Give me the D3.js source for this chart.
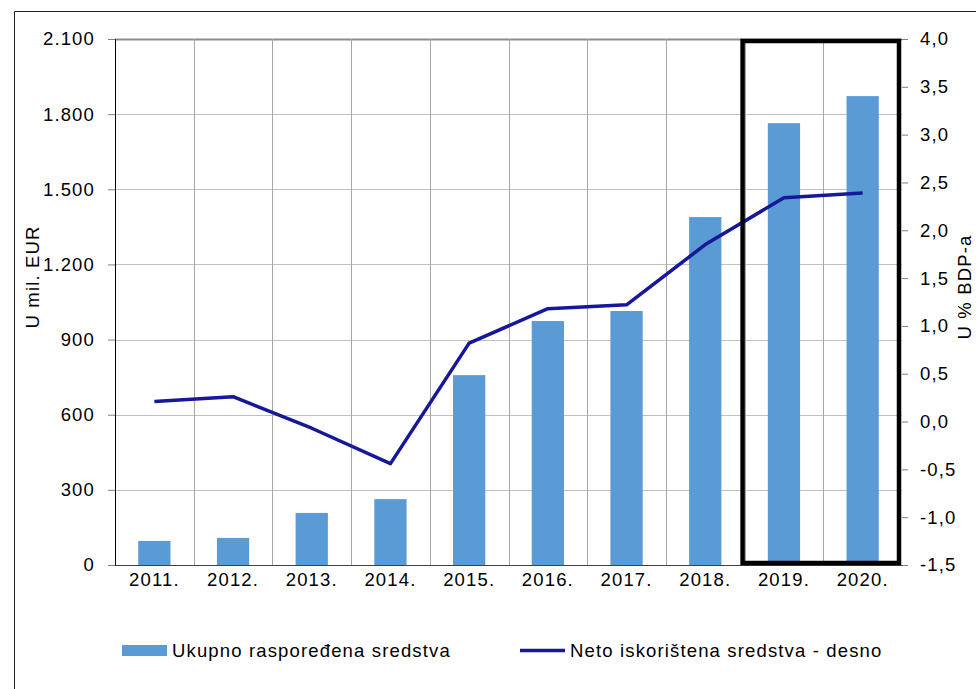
<!DOCTYPE html>
<html>
<head>
<meta charset="utf-8">
<script src="https://cdn.jsdelivr.net/npm/d3@7"></script>
<style>
  body { margin: 0; background: #fff; }
  text { font-family: 'Liberation Sans', Arial, sans-serif; font-size: 18.5px; letter-spacing: 1.15px; fill: #000; }
</style>
</head>
<body>
<div id="chart"></div>
<script>
const years = ['2011.', '2012.', '2013.', '2014.', '2015.', '2016.', '2017.', '2018.', '2019.', '2020.'];
const ukupno = [96, 108, 208, 263, 758, 974, 1014, 1389, 1764, 1872];
const neto = [0.21, 0.26, -0.07, -0.44, 0.82, 1.18, 1.22, 1.85, 2.34, 2.39];
const leftTicks = [0, 300, 600, 900, 1200, 1500, 1800, 2100];
const rightTicks = [-1.5, -1.0, -0.5, 0.0, 0.5, 1.0, 1.5, 2.0, 2.5, 3.0, 3.5, 4.0];
const highlighted = ['2019.', '2020.'];

const width = 976;
const height = 689;
const margin = {top: 39, bottom: 124, left: 115, right: 74};

const hr = d3.formatLocale({decimal: ',', thousands: '.', grouping: [3], currency: ['', ''], minus: '-'});

const svg = d3.select('#chart')
  .append('svg')
  .attr('width', width)
  .attr('height', height);

const x = d3.scaleBand()
  .domain(years)
  .range([margin.left, width - margin.right])
  .padding(0);

const y = d3.scaleLinear()
  .domain([0, 2100])
  .range([height - margin.bottom, margin.top]);

const y2 = d3.scaleLinear()
  .domain([-1.5, 4.0])
  .range([height - margin.bottom, margin.top]);

// outer frame
svg.append('path')
  .attr('d', `M14.5,${height} V11.5 H${width}`)
  .attr('fill', 'none')
  .attr('stroke', '#222')
  .attr('stroke-width', 1);

// horizontal grid
svg.append('g')
  .selectAll('line')
  .data(leftTicks)
  .join('line')
    .attr('x1', margin.left)
    .attr('x2', width - margin.right)
    .attr('y1', d => Math.round(y(d)) + 0.5)
    .attr('y2', d => Math.round(y(d)) + 0.5)
    .attr('stroke', d => d === 2100 ? '#8c8c8c' : '#c0c0c0')
    .attr('stroke-width', d => d === 2100 ? 2 : 1);

// vertical grid between categories
svg.append('g')
  .selectAll('line')
  .data(years.slice(1))
  .join('line')
    .attr('x1', d => Math.round(x(d)) + 0.5)
    .attr('x2', d => Math.round(x(d)) + 0.5)
    .attr('y1', margin.top)
    .attr('y2', height - margin.bottom)
    .attr('stroke', '#a6a6a6')
    .attr('stroke-width', 1);

// bars
const barW = x.bandwidth() * 0.41;
svg.append('g')
  .attr('fill', '#5b9bd5')
  .selectAll('rect')
  .data(ukupno)
  .join('rect')
    .attr('x', (d, i) => x(years[i]) + (x.bandwidth() - barW) / 2)
    .attr('y', d => y(d))
    .attr('width', barW)
    .attr('height', d => y(0) - y(d));

// left axis
function yAxis(g) {
  g.attr('transform', `translate(${margin.left}, 0)`)
    .call(d3.axisLeft(y).tickValues(leftTicks).tickSize(7).tickPadding(13).tickFormat(hr.format(',')))
    .call(g => g.select('.domain').attr('stroke', '#000'))
    .call(g => g.selectAll('.tick line').attr('stroke', '#808080'))
    .call(g => g.selectAll('text').attr('font-size', null).attr('font-family', null));
}

// right axis
function y2Axis(g) {
  g.attr('transform', `translate(${width - margin.right}, 0)`)
    .call(d3.axisRight(y2).tickValues(rightTicks).tickSize(6).tickPadding(12).tickFormat(hr.format('.1f')))
    .call(g => g.select('.domain').remove())
    .call(g => g.selectAll('.tick line').attr('stroke', '#808080'))
    .call(g => g.selectAll('text').attr('font-size', null).attr('font-family', null));
}

// bottom axis
function xAxis(g) {
  g.attr('transform', `translate(0, ${height - margin.bottom})`)
    .call(d3.axisBottom(x).tickSize(0).tickPadding(8))
    .call(g => g.select('.domain').attr('stroke', '#404040'))
    .call(g => g.selectAll('text').attr('font-size', null).attr('font-family', null));
}

svg.append('g').call(yAxis);
svg.append('g').call(y2Axis);
svg.append('g').call(xAxis);

// line series
const line = d3.line()
  .x((d, i) => x(years[i]) + x.bandwidth() / 2)
  .y(d => y2(d));

svg.append('path')
  .datum(neto)
  .attr('d', line)
  .attr('fill', 'none')
  .attr('stroke', '#17179a')
  .attr('stroke-width', 3.5)
  .attr('stroke-linejoin', 'round');

// highlight box around the last two years
svg.append('rect')
  .attr('x', x(highlighted[0]) - 2)
  .attr('y', margin.top + 2)
  .attr('width', x(highlighted[1]) + x.bandwidth() - x(highlighted[0]) - 1)
  .attr('height', height - margin.bottom - margin.top - 4)
  .attr('fill', 'none')
  .attr('stroke', '#000')
  .attr('stroke-width', 4.5);

// axis titles
svg.append('text')
  .attr('transform', 'translate(39, 277) rotate(-90)')
  .attr('text-anchor', 'middle')
  .text('U mil. EUR');

svg.append('text')
  .attr('transform', 'translate(971, 287) rotate(-90)')
  .attr('text-anchor', 'middle')
  .text('U % BDP-a');

// legend
const legend = svg.append('g');
legend.append('rect')
  .attr('x', 122)
  .attr('y', 645)
  .attr('width', 45)
  .attr('height', 11)
  .attr('fill', '#5b9bd5');
legend.append('text')
  .attr('x', 172)
  .attr('y', 657)
  .text('Ukupno raspoređena sredstva');
legend.append('line')
  .attr('x1', 520)
  .attr('x2', 565)
  .attr('y1', 650.5)
  .attr('y2', 650.5)
  .attr('stroke', '#17179a')
  .attr('stroke-width', 3.5);
legend.append('text')
  .attr('x', 570)
  .attr('y', 657)
  .text('Neto iskorištena sredstva - desno');
</script>
</body>
</html>
